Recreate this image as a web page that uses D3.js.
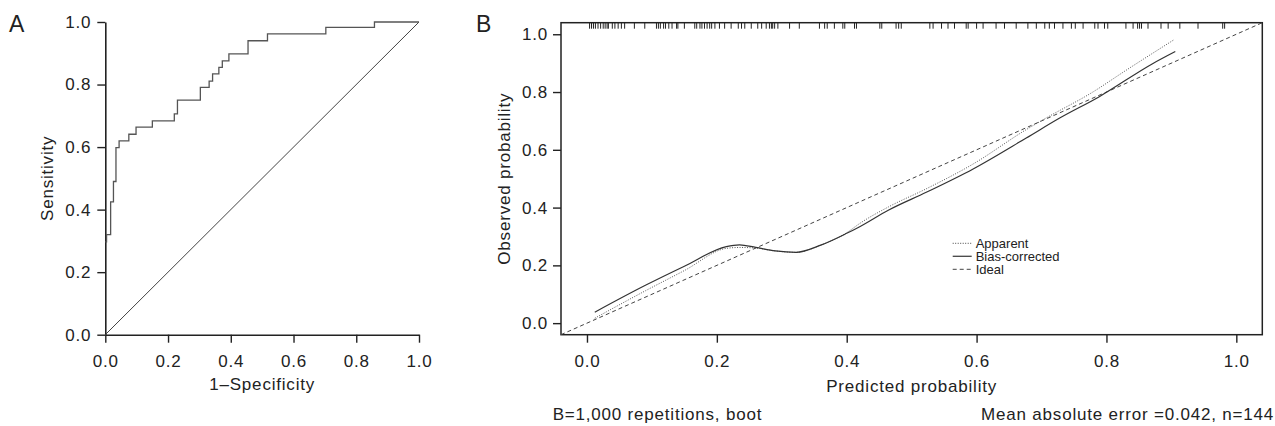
<!DOCTYPE html>
<html lang="en">
<head>
<meta charset="UTF-8">
<title>ROC and calibration</title>
<script src="https://d3js.org/d3.v7.min.js"></script>
<style>
    body { margin: 0; background: #fff; }
    svg { display: block; }
    text { font-family: "Liberation Sans", Arial, sans-serif; fill: #222; }
    .lab { letter-spacing: 0.8px; }
</style>
</head>
<body>
<script>

    // Panel A: ROC step corners (1-specificity, sensitivity)
    const rocFpr = [0, 0.004, 0.017, 0.026, 0.034, 0.044, 0.075, 0.098, 0.15, 0.22, 0.23, 0.303, 0.331, 0.342, 0.362, 0.373, 0.394, 0.455, 0.517, 0.703, 0.858, 1.0]
    const rocTpr = [0.297, 0.32, 0.425, 0.49, 0.598, 0.62, 0.641, 0.664, 0.684, 0.706, 0.75, 0.791, 0.811, 0.834, 0.855, 0.876, 0.898, 0.94, 0.962, 0.983, 1.0, 1.0]
    const chanceLine = [0, 1]

    // Panel B: calibration curves
    const apparentX = [0.012, 0.09, 0.15, 0.215, 0.235, 0.26, 0.29, 0.322, 0.36, 0.4, 0.42, 0.464, 0.5225, 0.594, 0.6765, 0.707, 0.779, 0.83, 0.904]
    const apparentY = [0.017, 0.112, 0.182, 0.259, 0.262, 0.26, 0.25, 0.245, 0.27, 0.313, 0.345, 0.402, 0.465, 0.55, 0.67, 0.71, 0.80, 0.875, 0.981]
    const biasX = [0.012, 0.09, 0.15, 0.2146, 0.235, 0.26, 0.29, 0.322, 0.36, 0.4, 0.42, 0.464, 0.5225, 0.594, 0.6765, 0.728, 0.789, 0.871, 0.906]
    const biasY = [0.038, 0.131, 0.197, 0.265, 0.271, 0.262, 0.25, 0.245, 0.27, 0.311, 0.334, 0.391, 0.453, 0.533, 0.641, 0.71, 0.784, 0.898, 0.94]
    const idealLine = [-0.04, 1.04]
    const rugValues = [0.004, 0.007, 0.010, 0.013, 0.017, 0.021, 0.025, 0.028, 0.031, 0.033, 0.039, 0.043, 0.048, 0.053, 0.058, 0.073, 0.089,
        0.107, 0.110, 0.113, 0.118, 0.121, 0.126, 0.131, 0.138, 0.140, 0.150, 0.166, 0.169, 0.174, 0.177, 0.181, 0.185, 0.189, 0.192, 0.197,
        0.204, 0.212, 0.222, 0.233, 0.238, 0.243, 0.253, 0.263, 0.269, 0.276, 0.281, 0.284, 0.286, 0.289, 0.294, 0.312, 0.327, 0.358, 0.366,
        0.370, 0.381, 0.394, 0.397, 0.412, 0.415, 0.451, 0.454, 0.476, 0.480, 0.484, 0.528, 0.533, 0.546, 0.556, 0.566, 0.584, 0.587, 0.600,
        0.610, 0.630, 0.643, 0.661, 0.679, 0.692, 0.705, 0.712, 0.720, 0.733, 0.746, 0.752, 0.764, 0.782, 0.787, 0.797, 0.802, 0.830, 0.841,
        0.848, 0.851, 0.854, 0.864, 0.884, 0.895, 0.913, 0.941, 0.979, 0.982]

    const legendLabels = ["Apparent", "Bias-corrected", "Ideal"]
    const tickVals = [0, 0.2, 0.4, 0.6, 0.8, 1.0]

    const width = 1275
    const height = 426
    const svg = d3.select("body").append("svg")
                .attr("width", width)
                .attr("height", height)

    const fmt = d3.format(".1f")

    function styleAxis(g) {
        g.selectAll("text").attr("font-size", 17).attr("font-family", null).attr("fill", "#222").attr("class", "lab")
        g.selectAll("line").attr("stroke", "#222").attr("stroke-width", 1.4)
        g.select(".domain").attr("stroke", "#222").attr("stroke-width", 1.6)
    }

    // ---------- Panel A ----------
    const xA = d3.scaleLinear().domain([0, 1]).range([105.3, 419])
    const yA = d3.scaleLinear().domain([0, 1]).range([334.7, 22])
    const gA = svg.append("g")

    gA.append("g")
        .attr("transform", `translate(0,${yA(0)})`)
        .call(d3.axisBottom(xA).tickValues(tickVals).tickFormat(fmt).tickSize(8).tickSizeOuter(0).tickPadding(12))
        .call(styleAxis)
    gA.append("g")
        .attr("transform", `translate(${xA(0)},0)`)
        .call(d3.axisLeft(yA).tickValues(tickVals).tickFormat(fmt).tickSize(8).tickSizeOuter(0).tickPadding(6))
        .call(styleAxis)

    gA.append("line")
        .attr("x1", xA(chanceLine[0])).attr("y1", yA(chanceLine[0]))
        .attr("x2", xA(chanceLine[1])).attr("y2", yA(chanceLine[1]))
        .attr("stroke", "#444").attr("stroke-width", 1)

    const rocLine = d3.line().x(d => xA(d[0])).y(d => yA(d[1])).curve(d3.curveStepAfter)
    gA.append("path")
        .attr("d", rocLine(d3.zip(rocFpr, rocTpr)))
        .attr("fill", "none").attr("stroke", "#555").attr("stroke-width", 1.3)

    gA.append("text").text("1–Specificity").attr("class", "lab")
        .attr("x", (xA(0) + xA(1)) / 2).attr("y", 390)
        .attr("text-anchor", "middle").attr("font-size", 17)
    gA.append("text").text("Sensitivity").attr("class", "lab")
        .attr("transform", `translate(53,${(yA(0) + yA(1)) / 2}) rotate(-90)`)
        .attr("text-anchor", "middle").attr("font-size", 17)
    gA.append("text").text("A")
        .attr("x", 9).attr("y", 32).attr("font-size", 23)

    // ---------- Panel B ----------
    const xB = d3.scaleLinear().domain([-0.04, 1.04]).range([561, 1262.3])
    const yB = d3.scaleLinear().domain([-0.04, 1.04]).range([334.7, 22.7])
    const gB = svg.append("g")

    gB.append("g")
        .attr("transform", `translate(0,${yB(-0.04)})`)
        .call(d3.axisBottom(xB).tickValues(tickVals).tickFormat(fmt).tickSize(8).tickSizeOuter(0).tickPadding(12))
        .call(styleAxis)
        .call(g => g.select(".domain").remove())
    gB.append("g")
        .attr("transform", `translate(${xB(-0.04)},0)`)
        .call(d3.axisLeft(yB).tickValues(tickVals).tickFormat(fmt).tickSize(8).tickSizeOuter(0).tickPadding(5))
        .call(styleAxis)
        .call(g => g.select(".domain").remove())

    gB.append("rect")
        .attr("x", xB(-0.04)).attr("y", yB(1.04))
        .attr("width", xB(1.04) - xB(-0.04)).attr("height", yB(-0.04) - yB(1.04))
        .attr("fill", "none").attr("stroke", "#222").attr("stroke-width", 1.5)

    // rug of predicted values along the top
    gB.selectAll(".rug")
        .data(rugValues)
        .enter()
        .append("line")
        .attr("class", "rug")
        .attr("x1", d => xB(d)).attr("x2", d => xB(d))
        .attr("y1", yB(1.04)).attr("y2", yB(1.04) + 6)
        .attr("stroke", "#222").attr("stroke-width", 1)

    const calLine = d3.line().x(d => xB(d[0])).y(d => yB(d[1])).curve(d3.curveMonotoneX)

    gB.append("path")
        .attr("d", calLine([[idealLine[0], idealLine[0]], [idealLine[1], idealLine[1]]]))
        .attr("fill", "none").attr("stroke", "#444").attr("stroke-width", 1)
        .attr("stroke-dasharray", "4,3")
    gB.append("path")
        .attr("d", calLine(d3.zip(apparentX, apparentY)))
        .attr("fill", "none").attr("stroke", "#555").attr("stroke-width", 1)
        .attr("stroke-dasharray", "1,1.5")
    gB.append("path")
        .attr("d", calLine(d3.zip(biasX, biasY)))
        .attr("fill", "none").attr("stroke", "#333").attr("stroke-width", 1.2)

    // legend
    const dashes = ["1,1.5", null, "4,3"]
    const legend = gB.selectAll(".leg")
        .data(legendLabels)
        .enter()
        .append("g")
        .attr("class", "leg")
        .attr("transform", (d, i) => `translate(952.7,${243.3 + i * 13})`)
    legend.append("line")
        .attr("x1", 0).attr("x2", 19)
        .attr("stroke", "#444").attr("stroke-width", (d, i) => i == 1 ? 1.3 : 1)
        .attr("stroke-dasharray", (d, i) => dashes[i])
    legend.append("text").text(d => d)
        .attr("x", 23).attr("dy", "0.35em").attr("font-size", 13)

    gB.append("text").text("Predicted probability").attr("class", "lab")
        .attr("x", (xB(-0.04) + xB(1.04)) / 2).attr("y", 392)
        .attr("text-anchor", "middle").attr("font-size", 17)
    gB.append("text").text("Observed probability").attr("class", "lab")
        .attr("transform", `translate(510,${(yB(-0.04) + yB(1.04)) / 2}) rotate(-90)`)
        .attr("text-anchor", "middle").attr("font-size", 17)
    gB.append("text").text("B=1,000 repetitions, boot").attr("class", "lab")
        .attr("x", 552.7).attr("y", 420).attr("font-size", 17)
    gB.append("text").text("Mean absolute error =0.042, n=144").attr("class", "lab")
        .attr("x", 1274).attr("y", 420).attr("text-anchor", "end").attr("font-size", 17)
    gB.append("text").text("B")
        .attr("x", 476).attr("y", 32).attr("font-size", 23)

</script>
</body>
</html>
